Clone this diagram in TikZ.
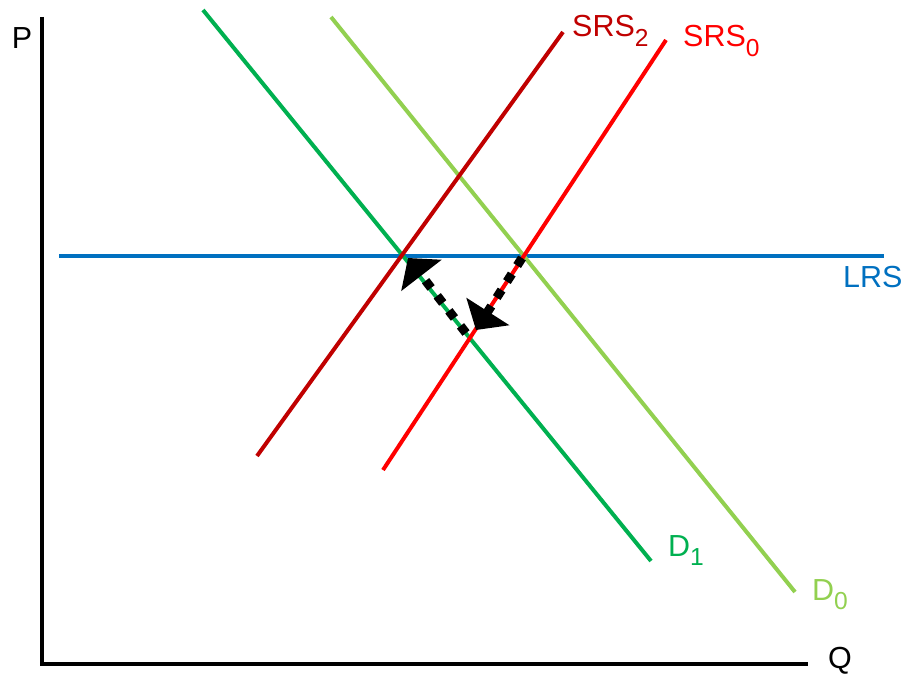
\documentclass[tikz,border=0pt]{standalone}
\usepackage{fontspec}
\setmainfont{Liberation Sans}
\usetikzlibrary{%
	arrows.meta,%
	calc,%
}
\definecolor{cdemandold}{RGB}{146, 208, 80}
\definecolor{cdemandnew}{RGB}{0, 176, 80}
\definecolor{csupplyold}{RGB}{255, 0, 0}
\definecolor{csupplynew}{RGB}{192, 0, 0}
\definecolor{clongrun}{RGB}{0, 112, 192}
\newcommand{\lowidx}[1]{\raisebox{-8pt}{\fontsize{21}{24}\selectfont #1}}
\tikzset{
	>=Triangle,%
	axis/.style={%
			draw=black,%
			line width=2.6pt},%
	curve/.style={%
			line width=3.4pt},%
	curvelabel/.style={%
			inner sep=0pt,%
			anchor=base west,%
			font={\fontsize{26}{30}\selectfont}},%
	move/.style={%
			draw=black,%
			line width=0.27cm,%
			dash pattern=on 0.27cm off 0.3cm,%
			-{Triangle[width=1.5cm, length=0.66cm]}},%
}
\begin{document}
\begin{tikzpicture}[x=0.03cm, y=-0.03cm]%
	\useasboundingbox (0,0) rectangle (905,675);

	% axes
	\coordinate (origin) at (42,664);
	\coordinate (ptop) at (42,17);
	\coordinate (qend) at (808,664);
	\draw[axis] (ptop) -- (origin) -- (qend);
	\node[curvelabel, anchor=base] (plabel) at (22,48) {P};
	\node[curvelabel, anchor=base] (qlabel) at (840,668) {Q};

	% long run supply
	\coordinate (lrsa) at (59,256);
	\coordinate (lrsb) at (884,256);
	\draw[curve, clongrun] (lrsa) -- (lrsb);
	\node[curvelabel, text=clongrun] (lrslabel) at (843,287) {LRS};

	% demand curves
	\coordinate (dzeroa) at (331,17);
	\coordinate (dzerob) at (795,592);
	\draw[curve, cdemandold] (dzeroa) -- (dzerob);
	\node[curvelabel, text=cdemandold] (dzerolabel) at (812,600) {D\lowidx{0}};

	\coordinate (donea) at (203,10);
	\coordinate (doneb) at (651,561);
	\draw[curve, cdemandnew] (donea) -- (doneb);
	\node[curvelabel, text=cdemandnew] (donelabel) at (668,556) {D\lowidx{1}};

	% short run supply curves
	\coordinate (srszeroa) at (383,470);
	\coordinate (srszerob) at (666,40);
	\draw[curve, csupplyold] (srszeroa) -- (srszerob);
	\node[curvelabel, text=csupplyold] (srszerolabel) at (683,47) {SRS\lowidx{0}};

	\coordinate (srstwoa) at (257,456);
	\coordinate (srstwob) at (563,32);
	\draw[curve, csupplynew] (srstwoa) -- (srstwob);
	\node[curvelabel, text=csupplynew] (srstwolabel) at (572,37) {SRS\lowidx{2}};

	% adjustment path
	\coordinate (startpt) at (522,258);
	\coordinate (dippt) at (476,330);
	\coordinate (backstart) at (466,333);
	\coordinate (endpt) at (408,258);
	\draw[move] (startpt) -- (dippt);
	\draw[move] (backstart) -- (endpt);
\end{tikzpicture}
\end{document}
